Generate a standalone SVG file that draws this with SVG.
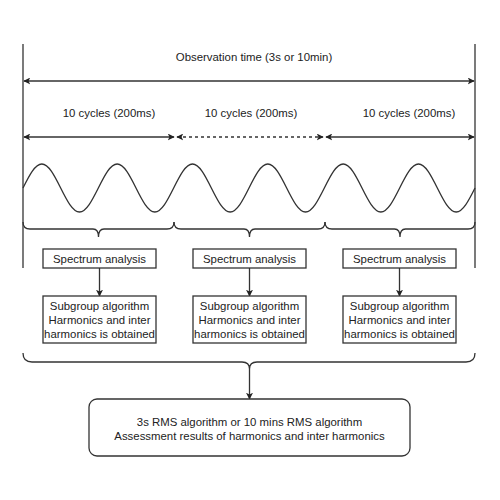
<svg xmlns="http://www.w3.org/2000/svg" width="500" height="500" viewBox="0 0 500 500">
<defs>
<marker id="ah" viewBox="0 0 10 10" refX="9" refY="5" markerWidth="7" markerHeight="7" markerUnits="userSpaceOnUse" orient="auto-start-reverse">
<path d="M0,0 L10,5 L0,10 L2.5,5 Z" fill="#222"/>
</marker>
<style>
.ln{stroke:#333;stroke-width:1.3;fill:none}
.ar{stroke:#333;stroke-width:1.3;fill:none;marker-end:url(#ah)}
.ar2{stroke:#333;stroke-width:1.3;fill:none;marker-start:url(#ah);marker-end:url(#ah)}
.box{fill:#fff;stroke:#333;stroke-width:1.3}
.t{font-family:"Liberation Sans",Arial,sans-serif;font-size:11.4px;fill:#222;text-anchor:middle}
</style>
</defs>
<rect width="500" height="500" fill="#fff"/>
<g id="frame">
<line class="ln" x1="23" y1="44" x2="23" y2="268"/>
<line class="ln" x1="475" y1="44" x2="475" y2="268"/>
</g>
<g id="labels">
<text class="t" x="254" y="61">Observation time (3s or 10min)</text>
<text class="t" x="109" y="117">10 cycles (200ms)</text>
<text class="t" x="251" y="117">10 cycles (200ms)</text>
<text class="t" x="409" y="117">10 cycles (200ms)</text>
</g>
<g id="wave">
<path class="ln" d="M23,188 C29.14,175.7 35.05,164 41.83,164 S54.53,175.7 60.67,188 S72.72,212 79.5,212 S92.19,200.3 98.33,188 S110.39,164 117.17,164 S129.86,175.7 136,188 S148.05,212 154.83,212 S167.53,200.3 173.67,188 S185.72,164 192.5,164 S205.19,175.7 211.33,188 S223.39,212 230.17,212 S242.86,200.3 249,188 S261.05,164 267.83,164 S280.53,175.7 286.67,188 S298.72,212 305.5,212 S318.19,200.3 324.33,188 S336.39,164 343.17,164 S355.86,175.7 362,188 S374.05,212 380.83,212 S393.53,200.3 399.67,188 S411.72,164 418.5,164 S431.19,175.7 437.33,188 S449.39,212 456.17,212 S468.86,200.3 475,188"/>
</g>
<g id="connectors">
<line class="ar2" x1="24" y1="81" x2="474" y2="81"/>
<line class="ar2" x1="24" y1="137" x2="174" y2="137"/>
<line class="ar2" x1="177" y1="137" x2="323" y2="137" stroke-dasharray="3,3"/>
<line class="ar2" x1="326" y1="137" x2="474" y2="137"/>
<path class="ln" d="M23,222 Q23,229 30,229 L93,229 Q98.5,229 98.5,237 Q98.5,229 104,229 L167,229 Q174,229 174,222"/>
<path class="ln" d="M174,222 Q174,229 181,229 L244,229 Q249.5,229 249.5,237 Q249.5,229 255,229 L318,229 Q325,229 325,222"/>
<path class="ln" d="M325,222 Q325,229 332,229 L394.5,229 Q400,229 400,237 Q400,229 405.5,229 L468,229 Q475,229 475,222"/>
<line class="ar" x1="99.5" y1="268" x2="99.5" y2="296"/>
<line class="ar" x1="249.5" y1="268" x2="249.5" y2="296"/>
<line class="ar" x1="399.5" y1="268" x2="399.5" y2="296"/>
<path class="ln" d="M23,353 Q23,362 32,362 L242,362 Q249.5,362 249.5,369 Q249.5,362 257,362 L466,362 Q475,362 475,353"/>
<line class="ar" x1="249.5" y1="369" x2="249.5" y2="399"/>
</g>
<g id="spec1"><rect class="box" x="43" y="249" width="113" height="19"/><text class="t" x="99.5" y="262.5">Spectrum analysis</text></g>
<g id="spec2"><rect class="box" x="193" y="249" width="113" height="19"/><text class="t" x="249.5" y="262.5">Spectrum analysis</text></g>
<g id="spec3"><rect class="box" x="343" y="249" width="113" height="19"/><text class="t" x="399.5" y="262.5">Spectrum analysis</text></g>
<g id="sub1"><rect class="box" x="43" y="296" width="113" height="47"/><text class="t" x="99.5" y="310">Subgroup algorithm</text><text class="t" x="99.5" y="324">Harmonics and inter</text><text class="t" x="99.5" y="337.5">harmonics is obtained</text></g>
<g id="sub2"><rect class="box" x="193" y="296" width="113" height="47"/><text class="t" x="249.5" y="310">Subgroup algorithm</text><text class="t" x="249.5" y="324">Harmonics and inter</text><text class="t" x="249.5" y="337.5">harmonics is obtained</text></g>
<g id="sub3"><rect class="box" x="343" y="296" width="113" height="47"/><text class="t" x="399.5" y="310">Subgroup algorithm</text><text class="t" x="399.5" y="324">Harmonics and inter</text><text class="t" x="399.5" y="337.5">harmonics is obtained</text></g>
<g id="result"><rect class="box" x="89" y="399" width="321" height="57" rx="8"/><text class="t" x="249.5" y="426">3s RMS algorithm or 10 mins RMS algorithm</text><text class="t" x="249.5" y="439.5">Assessment results of harmonics and inter harmonics</text></g>
</svg>
